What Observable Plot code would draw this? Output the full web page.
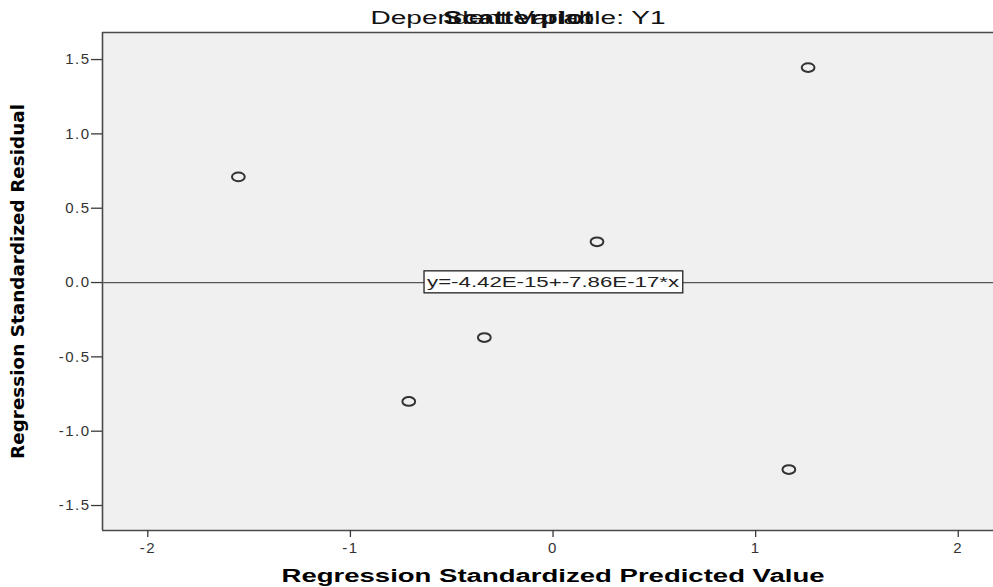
<!DOCTYPE html>
<html>
<head>
<meta charset="utf-8">
<script src="https://cdn.jsdelivr.net/npm/d3@7"></script>
<script src="https://cdn.jsdelivr.net/npm/@observablehq/plot@0.6"></script>
<style>
  html, body { margin: 0; padding: 0; background: #fff; overflow: hidden; width: 993px; height: 587px; }
  #chart { width: 993px; height: 587px; overflow: hidden; }
  #chart svg { max-width: none !important; }
</style>
</head>
<body>
<div id="chart"></div>
<script>
// ---- data ----
const predicted = [-1.553, 1.259, 0.217, -0.339, -0.712, 1.164];
const residuals = [0.711, 1.446, 0.274, -0.370, -0.800, -1.258];
const xTicks = [-2, -1, 0, 1, 2];
const yTicks = [-1.5, -1.0, -0.5, 0.0, 0.5, 1.0, 1.5];
const fitIntercept = -4.42e-15;
const fitSlope = -7.86e-17;
const fitLabel = "y=-4.42E-15+-7.86E-17*x";
const titleText = "Dependent Variable: Y1";
const overlayTitle = "Scatterplot";
const xLabel = "Regression Standardized Predicted Value";
const yLabel = "Regression Standardized Residual";

const points = predicted.map((x, i) => ({x, y: residuals[i]}));

// scale domains (the plot area runs off the right edge of the picture)
const xDomain = [-2.2236, 2.2233];
const yDomain = [-1.668, 1.682];

// open ellipse symbol (SPSS markers look horizontally stretched)
const ellipse = {
  draw(context, size) {
    const r = Math.sqrt(size / Math.PI);
    const rx = r * 1.45, ry = r, k = 0.5523;
    context.moveTo(rx, 0);
    context.bezierCurveTo(rx, ry * k, rx * k, ry, 0, ry);
    context.bezierCurveTo(-rx * k, ry, -rx, ry * k, -rx, 0);
    context.bezierCurveTo(-rx, -ry * k, -rx * k, -ry, 0, -ry);
    context.bezierCurveTo(rx * k, -ry, rx, -ry * k, rx, 0);
    context.closePath();
  }
};

const yFmt = d => d.toFixed(1);
const xFmt = d => String(d);
const border = {stroke: "#4a4a4a", strokeWidth: 1.6};

const chart = Plot.plot({
  width: 1003,
  height: 587,
  marginLeft: 102,
  marginRight: 0,
  marginTop: 32,
  marginBottom: 57,
  style: {fontFamily: "'Liberation Sans', Arial, sans-serif", fontSize: "15px", background: "#ffffff", maxWidth: "none"},
  x: {domain: xDomain, label: null},
  y: {domain: yDomain, label: null},
  marks: [
    Plot.frame({fill: "#f0f0f0", stroke: "none"}),
    Plot.ruleY(yDomain, border),
    Plot.ruleX([xDomain[0]], border),
    Plot.axisY({ticks: yTicks, tickFormat: yFmt, tickSize: 11, tickPadding: 1,
      stroke: "#3a3a3a", strokeWidth: 1.3, fill: "#333", fontSize: 15, label: null}),
    Plot.axisX({ticks: xTicks, tickFormat: xFmt, tickSize: 7, tickPadding: 5,
      stroke: "#3a3a3a", strokeWidth: 1.3, fill: "#333", fontSize: 15, label: null}),
    Plot.ruleY([fitIntercept], {stroke: "#555", strokeWidth: 1.2}),
    Plot.text([fitLabel], {x: 0, y: 0, fontSize: 15, fill: "#222", textAnchor: "middle", lineAnchor: "middle"}),
    Plot.dot(points, {x: "x", y: "y", r: 4.4, symbol: ellipse, stroke: "#333", strokeWidth: 2, fill: "none"}),
    Plot.text([titleText], {frameAnchor: "top", dx: -35, dy: -14, fontSize: 18, fill: "#111", textAnchor: "middle", lineAnchor: "middle"}),
    Plot.text([overlayTitle], {frameAnchor: "top", dx: -35, dy: -14, fontSize: 18, fontWeight: "bold", fill: "#111", textAnchor: "middle", lineAnchor: "middle"}),
    Plot.text([xLabel], {x: 0, frameAnchor: "bottom", dy: 46, fontSize: 18, fontWeight: "bold", fill: "#000", textAnchor: "middle", lineAnchor: "middle"}),
    Plot.text([yLabel], {frameAnchor: "left", dx: -84, rotate: -90, fontSize: 18, fontWeight: "bold", fill: "#000", textAnchor: "middle", lineAnchor: "middle",
      fontFamily: "'Liberation Sans Narrow', 'DejaVu Sans Condensed', 'Liberation Sans', sans-serif"})
  ]
});

document.getElementById("chart").appendChild(chart);

const svg = d3.select(chart);

const stretch = (txt, len) => {
  svg.selectAll("text").filter(function () { return this.textContent === txt; })
    .attr("textLength", len).attr("lengthAdjust", "spacingAndGlyphs");
};
stretch(titleText, 295);
stretch(overlayTitle, 150);
stretch(xLabel, 543);
stretch(yLabel, 355);
stretch(fitLabel, 252);

// widen tick labels like the SPSS rendering
const tickStrings = new Set([...yTicks.map(yFmt), ...xTicks.map(xFmt)]);
svg.selectAll("text").filter(function () { return tickStrings.has(this.textContent); })
  .style("letter-spacing", "1.5px");

// box behind the fit-equation label
svg.selectAll("text").filter(function () { return this.textContent === fitLabel; })
  .each(function () {
    const b = this.getBBox();
    const rect = document.createElementNS("http://www.w3.org/2000/svg", "rect");
    rect.setAttribute("x", b.x - 3);
    rect.setAttribute("y", b.y - 2.5);
    rect.setAttribute("width", b.width + 6);
    rect.setAttribute("height", b.height + 5);
    rect.setAttribute("fill", "#ffffff");
    rect.setAttribute("stroke", "#222");
    rect.setAttribute("stroke-width", "1.3");
    const tr = this.getAttribute("transform");
    if (tr) rect.setAttribute("transform", tr);
    this.parentNode.insertBefore(rect, this);
  });
</script>
</body>
</html>
